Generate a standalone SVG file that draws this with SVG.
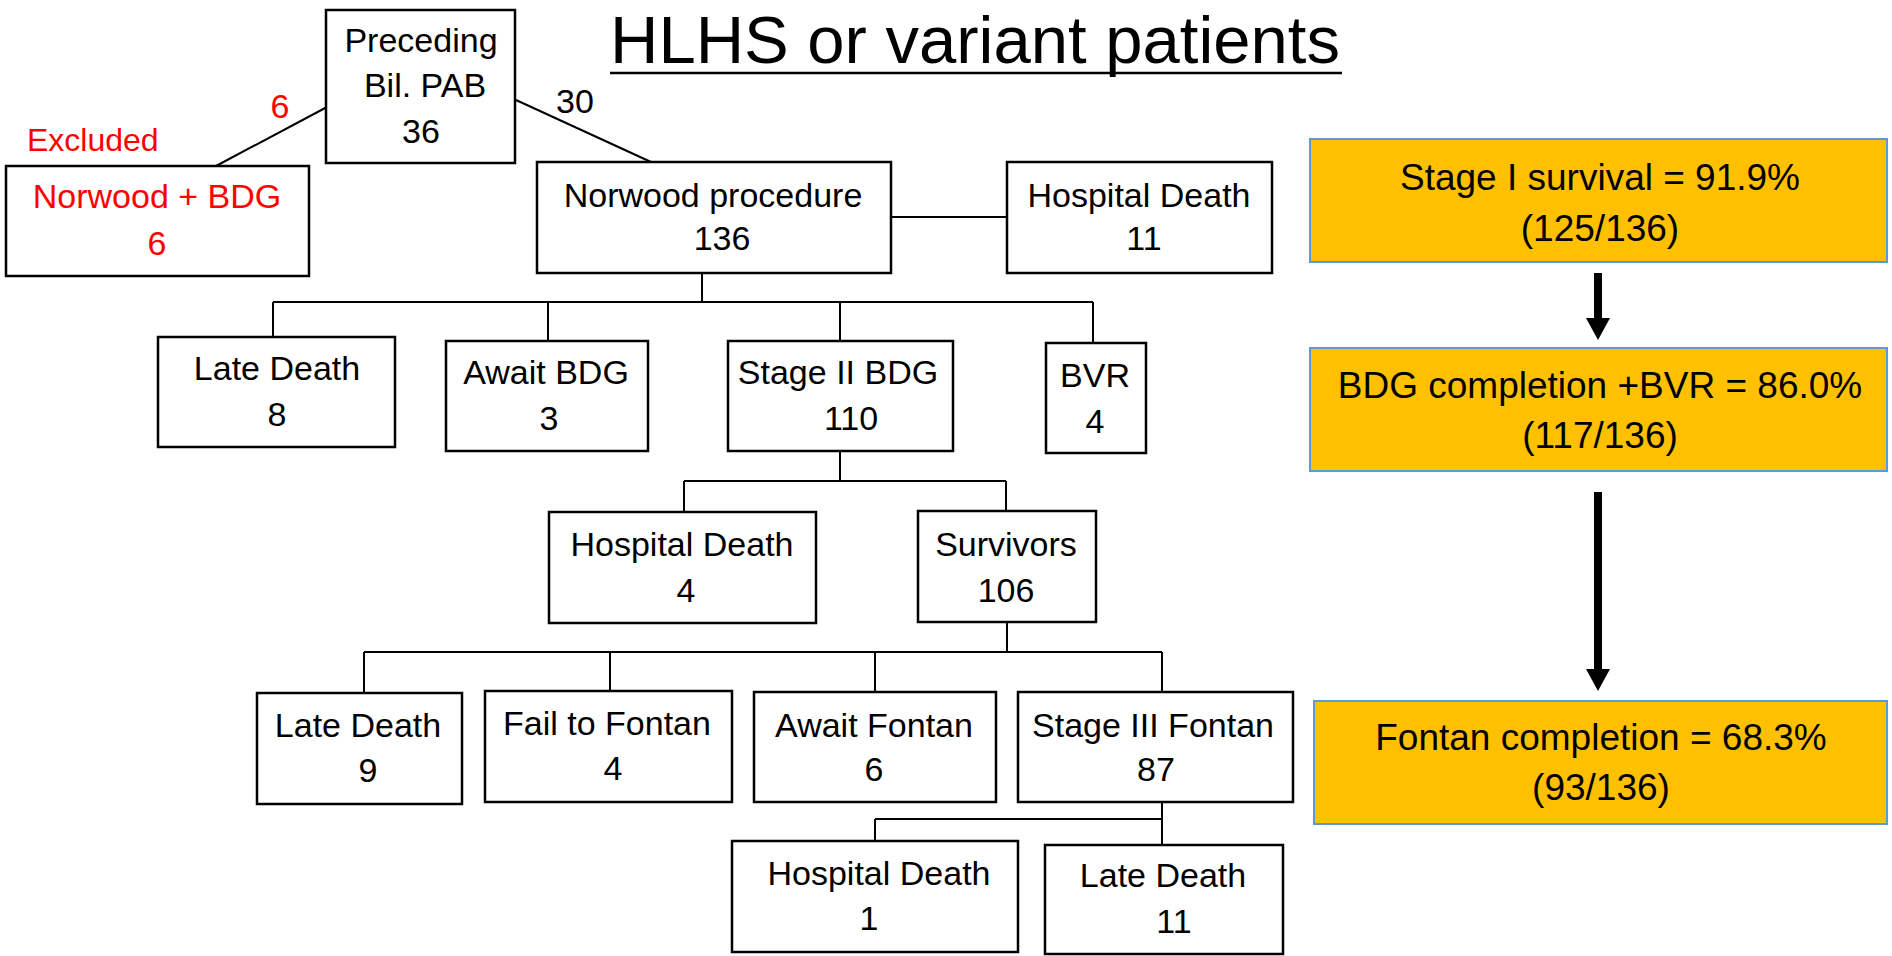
<svg xmlns="http://www.w3.org/2000/svg" width="1892" height="956" viewBox="0 0 1892 956">
<defs>
<style>
.box{fill:#fff;stroke:#000;stroke-width:2.5}
.sum{fill:#FFC000;stroke:#5B9BD5;stroke-width:2}
.t{font-family:"Liberation Sans",Arial,sans-serif;font-size:34px;fill:#000;text-anchor:middle}
.r{fill:#FF0000}
.s{font-family:"Liberation Sans",Arial,sans-serif;font-size:37px;fill:#000;text-anchor:middle}
.ln{stroke:#000;stroke-width:2;fill:none}
.ar{stroke:#000;stroke-width:8;fill:none}
</style>
<marker id="head" viewBox="0 0 22 24" refX="0" refY="12" markerWidth="22" markerHeight="24" markerUnits="userSpaceOnUse" orient="auto">
<path d="M0,0 L22,12 L0,24 Z" fill="#000"/>
</marker>
</defs>
<rect width="1892" height="956" fill="#fff"/>

<g id="title">
<text x="610" y="63" font-family="Liberation Sans,Arial,sans-serif" font-size="67" fill="#000">HLHS or variant patients</text>
<line x1="610" y1="73" x2="1342" y2="73" stroke="#000" stroke-width="2.5"/>
</g>

<g id="connectors">
<line class="ln" x1="327" y1="107" x2="216" y2="166"/>
<line class="ln" x1="516" y1="100" x2="651" y2="162"/>
<line class="ln" x1="891" y1="217" x2="1007" y2="217"/>
<path class="ln" d="M702,273 V302 M273,302 H1093 M273,302 V337 M548,302 V341 M840,302 V341 M1093,302 V343"/>
<path class="ln" d="M840,451 V481 M684,481 H1006 M684,481 V512 M1006,481 V511"/>
<path class="ln" d="M1007,622 V652 M364,652 H1162 M364,652 V693 M610,652 V691 M875,652 V692 M1162,652 V692"/>
<path class="ln" d="M1162,802 V845 M875,819 H1162 M875,819 V841"/>
<line class="ar" x1="1598" y1="273" x2="1598" y2="318" marker-end="url(#head)"/>
<line class="ar" x1="1598" y1="492" x2="1598" y2="669" marker-end="url(#head)"/>
</g>

<g id="edge-labels">
<text class="t r" x="280" y="118">6</text>
<text class="t" x="575" y="113">30</text>
<text class="t r" x="27" y="151" style="text-anchor:start;font-size:32px">Excluded</text>
</g>

<g id="n-preceding">
<rect class="box" x="326" y="10" width="189" height="153"/>
<text class="t" x="421" y="52">Preceding</text>
<text class="t" x="425" y="97">Bil. PAB</text>
<text class="t" x="421" y="143">36</text>
</g>

<g id="n-norwood-bdg">
<rect class="box" x="6" y="166" width="303" height="110"/>
<text class="t r" x="157" y="208">Norwood + BDG</text>
<text class="t r" x="157" y="255">6</text>
</g>

<g id="n-norwood">
<rect class="box" x="537" y="162" width="354" height="111"/>
<text class="t" x="713" y="207">Norwood procedure</text>
<text class="t" x="722" y="250">136</text>
</g>

<g id="n-hosp1">
<rect class="box" x="1007" y="162" width="265" height="111"/>
<text class="t" x="1139" y="207">Hospital Death</text>
<text class="t" x="1144" y="250">11</text>
</g>

<g id="n-late8">
<rect class="box" x="158" y="337" width="237" height="110"/>
<text class="t" x="277" y="380">Late Death</text>
<text class="t" x="277" y="426">8</text>
</g>

<g id="n-awaitbdg">
<rect class="box" x="446" y="341" width="202" height="110"/>
<text class="t" x="546" y="384">Await BDG</text>
<text class="t" x="549" y="430">3</text>
</g>

<g id="n-stage2">
<rect class="box" x="728" y="341" width="225" height="110"/>
<text class="t" x="838" y="384">Stage II BDG</text>
<text class="t" x="851" y="430">110</text>
</g>

<g id="n-bvr">
<rect class="box" x="1046" y="343" width="100" height="110"/>
<text class="t" x="1095" y="387">BVR</text>
<text class="t" x="1095" y="433">4</text>
</g>

<g id="n-hosp2">
<rect class="box" x="549" y="512" width="267" height="111"/>
<text class="t" x="682" y="556">Hospital Death</text>
<text class="t" x="686" y="602">4</text>
</g>

<g id="n-survivors">
<rect class="box" x="918" y="511" width="178" height="111"/>
<text class="t" x="1006" y="556">Survivors</text>
<text class="t" x="1006" y="602">106</text>
</g>

<g id="n-late9">
<rect class="box" x="257" y="693" width="205" height="111"/>
<text class="t" x="358" y="737">Late Death</text>
<text class="t" x="368" y="782">9</text>
</g>

<g id="n-fail">
<rect class="box" x="485" y="691" width="247" height="111"/>
<text class="t" x="607" y="735">Fail to Fontan</text>
<text class="t" x="613" y="780">4</text>
</g>

<g id="n-awaitfontan">
<rect class="box" x="754" y="692" width="242" height="110"/>
<text class="t" x="874" y="737">Await Fontan</text>
<text class="t" x="874" y="781">6</text>
</g>

<g id="n-stage3">
<rect class="box" x="1018" y="692" width="275" height="110"/>
<text class="t" x="1153" y="737">Stage III Fontan</text>
<text class="t" x="1156" y="781">87</text>
</g>

<g id="n-hosp3">
<rect class="box" x="732" y="841" width="286" height="111"/>
<text class="t" x="879" y="885">Hospital Death</text>
<text class="t" x="869" y="930">1</text>
</g>

<g id="n-late11">
<rect class="box" x="1045" y="845" width="238" height="109"/>
<text class="t" x="1163" y="887">Late Death</text>
<text class="t" x="1174" y="933">11</text>
</g>

<g id="s-stage1">
<rect class="sum" x="1310" y="139" width="577" height="123"/>
<text class="s" x="1600" y="190">Stage I survival = 91.9%</text>
<text class="s" x="1600" y="241">(125/136)</text>
</g>

<g id="s-bdg">
<rect class="sum" x="1310" y="348" width="577" height="123"/>
<text class="s" x="1600" y="398">BDG completion +BVR = 86.0%</text>
<text class="s" x="1600" y="448">(117/136)</text>
</g>

<g id="s-fontan">
<rect class="sum" x="1314" y="701" width="573" height="123"/>
<text class="s" x="1601" y="750">Fontan completion = 68.3%</text>
<text class="s" x="1601" y="800">(93/136)</text>
</g>
</svg>
